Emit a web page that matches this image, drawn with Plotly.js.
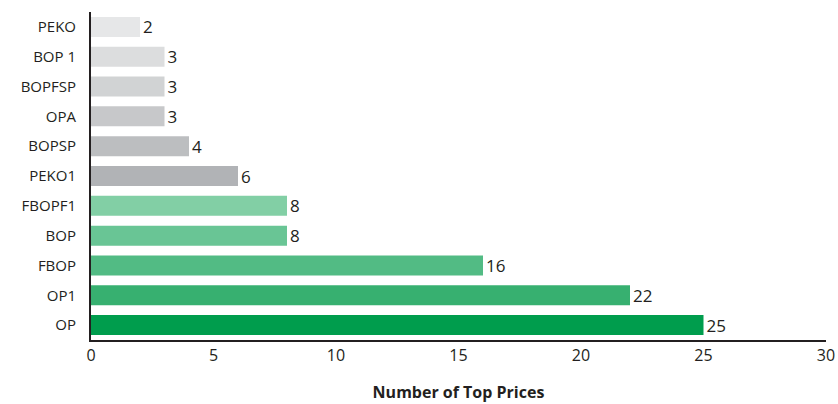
<!DOCTYPE html>
<html>
<head>
<meta charset="utf-8">
<script src="https://cdn.plot.ly/plotly-3.0.1.min.js"></script>
<style>html,body{margin:0;padding:0;background:#fff;}#chart{width:838px;height:404px;}</style>
</head>
<body>
<div id="chart"></div>
<script>
const categories = ["PEKO","BOP1","BOPFSP","OPA","BOPSP","PEKO1","FBOPF1","BOP","FBOP","OP1","OP"];
const tickLabels = ["PEKO","BOP 1","BOPFSP","OPA","BOPSP","PEKO1","FBOPF1","BOP","FBOP","OP1","OP"];
const values = [2,3,3,3,4,6,8,8,16,22,25];
const barColors = ["#e6e7e8","#dcddde","#d1d3d4","#c7c8ca","#bcbec0","#b1b3b6","#82cfa5","#69c595","#52bb84","#37b070","#009d4d"];

const font = "Open Sans, sans-serif";
Plotly.newPlot("chart", [{
  type: "bar",
  orientation: "h",
  y: categories,
  x: values,
  marker: {color: barColors},
  text: values.map(String),
  textposition: "outside",
  constraintext: "none",
  cliponaxis: false,
  textfont: {family: font, size: 17, color: "#231f20"},
  hoverinfo: "none"
}], {
  width: 838, height: 404,
  margin: {l: 91, r: 12, t: 12, b: 64},
  paper_bgcolor: "#fff", plot_bgcolor: "#fff",
  bargap: 0.33,
  showlegend: false,
  font: {family: font, color: "#231f20", size: 15},
  xaxis: {
    range: [0, 30], dtick: 5, showgrid: false, zeroline: false,
    showline: true, linecolor: "#231f20", linewidth: 2,
    ticks: "", tickfont: {size: 16},
    title: {text: "<b>Number of Top Prices</b>", font: {size: 16}, standoff: 22}
  },
  yaxis: {
    categoryorder: "array", categoryarray: categories.slice().reverse(),
    tickvals: categories, ticktext: tickLabels,
    showgrid: false, zeroline: false,
    showline: true, linecolor: "#231f20", linewidth: 2,
    ticks: "", ticklabelstandoff: 10, tickfont: {size: 15}
  }
}, {staticPlot: true});
</script>
</body>
</html>
